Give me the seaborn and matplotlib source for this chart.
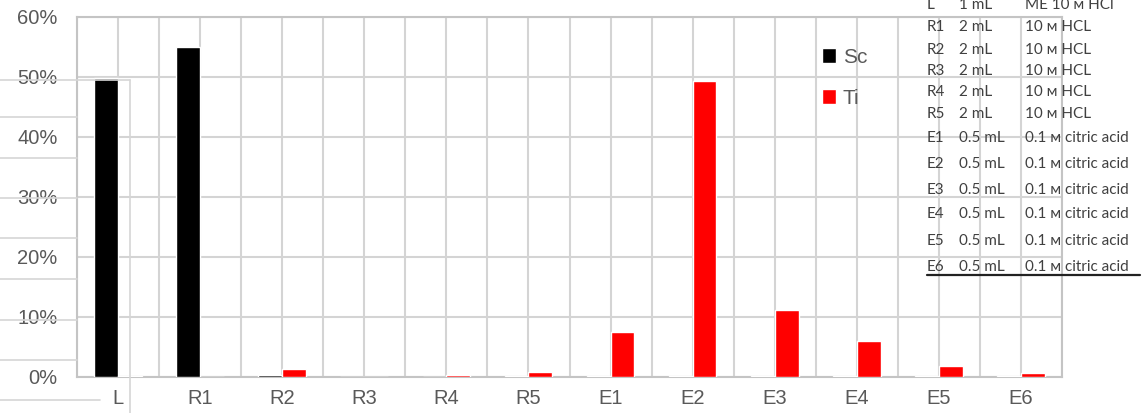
import numpy as np
import pandas as pd
import matplotlib
matplotlib.use("Agg")
import matplotlib.pyplot as plt
from matplotlib.lines import Line2D
from matplotlib.ticker import FixedLocator
import seaborn as sns

# Fractions (percent) of Sc and Ti recovered in each fraction
samples = ["L", "R1", "R2", "R3", "R4", "R5", "E1", "E2", "E3", "E4", "E5", "E6"]
sc_values = [49.8, 55.0, 0.3, 0.0, 0.0, 0.1, 0.1, 0.1, 0.1, 0.1, 0.1, 0.1]
ti_values = [0.2, 0.0, 1.3, 0.0, 0.3, 0.8, 7.5, 49.3, 11.1, 6.0, 1.9, 0.6]
y_ticks = [0, 10, 20, 30, 40, 50, 60]

# Fraction table: id, volume, solution
table_ids = ["L", "R1", "R2", "R3", "R4", "R5", "E1", "E2", "E3", "E4", "E5", "E6"]
table_volumes = ["1 mL", "2 mL", "2 mL", "2 mL", "2 mL", "2 mL",
                 "0.5 mL", "0.5 mL", "0.5 mL", "0.5 mL", "0.5 mL", "0.5 mL"]
table_solutions = ["ME 10 ᴍ HCl", "10 ᴍ HCL", "10 ᴍ HCL", "10 ᴍ HCL", "10 ᴍ HCL", "10 ᴍ HCL",
                   "0.1 ᴍ citric acid", "0.1 ᴍ citric acid", "0.1 ᴍ citric acid",
                   "0.1 ᴍ citric acid", "0.1 ᴍ citric acid", "0.1 ᴍ citric acid"]

df = pd.DataFrame({
    "sample": samples * 2,
    "element": ["Sc"] * len(samples) + ["Ti"] * len(samples),
    "value": sc_values + ti_values,
})

sns.set_style("white")
plt.rcParams["font.family"] = ["Liberation Sans", "DejaVu Sans"]

W, H = 1146, 413
fig = plt.figure(figsize=(W / 100, H / 100), dpi=100)
ax = fig.add_axes([77 / W, 1 - 377 / H, (1062 - 77) / W, (377 - 17) / H])

grid_c = "#d4d4d4"
text_c = "#595959"

sns.barplot(data=df, x="sample", y="value", hue="element", order=samples,
            palette={"Sc": "black", "Ti": "red"}, width=0.58, ax=ax,
            saturation=1, legend=True, zorder=3)

ax.set_ylim(0, 60)
ax.set_xlim(-0.5, len(samples) - 0.5)
ax.set_yticks(y_ticks)
ax.set_yticklabels([f"{v}%" for v in y_ticks])
ax.set_xlabel("")
ax.set_ylabel("")
ax.xaxis.set_minor_locator(FixedLocator(np.arange(-0.5, len(samples), 1.0)))
ax.grid(True, which="both", axis="x", color=grid_c, linewidth=1.5, zorder=0)
ax.grid(True, which="major", axis="y", color=grid_c, linewidth=1.5, zorder=0)
ax.set_axisbelow(True)
ax.tick_params(axis="both", which="both", length=0, colors=text_c, labelsize=14.5)
ax.tick_params(axis="y", pad=14)
ax.tick_params(axis="x", pad=9)
for sp in ax.spines.values():
    sp.set_color("#c4c4c4")
    sp.set_linewidth(1.5)

handles, labels = ax.get_legend_handles_labels()
leg = ax.legend(handles, labels, loc="upper left",
                bbox_to_anchor=((803 - 77) / (1062 - 77), 1 - (29 - 17) / 360),
                frameon=False, handlelength=0.7, handleheight=0.7,
                handletextpad=0.3, labelspacing=1.05, fontsize=15)
for t in leg.get_texts():
    t.set_color(text_c)

# Leftover table rules around the chart
def fig_line(x0, y0, x1, y1, color="#d6d6d6", lw=1.2):
    fig.add_artist(Line2D([x0 / W, x1 / W], [1 - y0 / H, 1 - y1 / H],
                          color=color, linewidth=lw, transform=fig.transFigure, zorder=1))

for yy in [117, 158, 198, 238, 279, 320, 360]:
    fig_line(0, yy, 77, yy)
fig_line(0, 400, 100, 400)
fig_line(0, 80, 130, 80)
fig_line(130, 80, 130, 413)

# Fraction table on the right
tab_font = ["Lato", "DejaVu Sans"]
row_y = [5, 27, 50, 71, 92, 114, 138, 164, 190, 214, 241, 267]
for tid, vol, sol, yy in zip(table_ids, table_volumes, table_solutions, row_y):
    fig.text(927 / W, 1 - yy / H, tid, ha="left", va="center", fontsize=11,
             color="#404040", family=tab_font)
    fig.text(959 / W, 1 - yy / H, vol, ha="left", va="center", fontsize=11,
             color="#404040", family=tab_font)
    fig.text(1025 / W, 1 - yy / H, sol, ha="left", va="center", fontsize=11,
             color="#404040", family=tab_font)
fig_line(927, 275, 1140, 275, color="#222222", lw=1.6)

fig.savefig("out.png", dpi=100)
